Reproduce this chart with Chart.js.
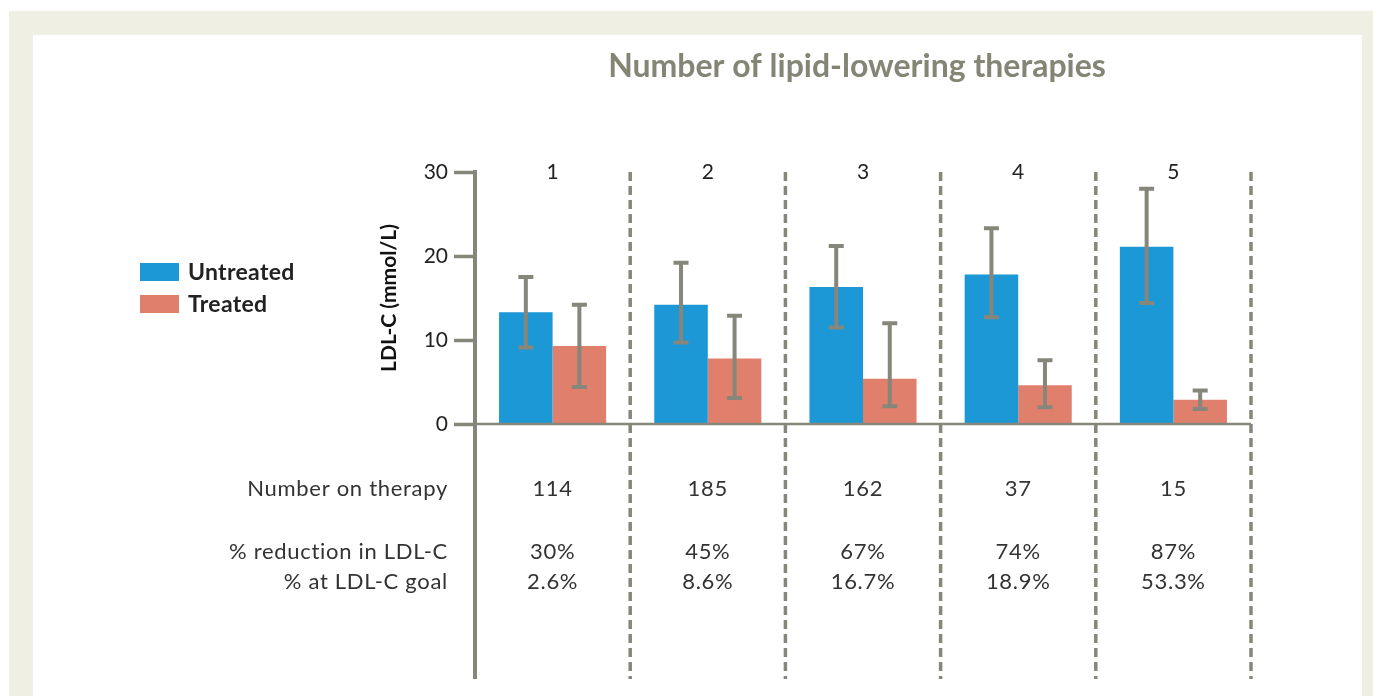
<!DOCTYPE html>
<html>
<head>
<meta charset="utf-8">
<script src="https://cdn.jsdelivr.net/npm/chart.js@4/dist/chart.umd.min.js"></script>
<style>
  body { margin: 0; background: #fff; }
  #wrap { width: 1373px; height: 696px; }
</style>
</head>
<body>
<div id="wrap"><canvas id="bar-chart" width="1373" height="696"></canvas></div>
<script>
// therapy counts on the x axis
const categories = ['1', '2', '3', '4', '5'];

// LDL-C means and error bar ends (mmol/L)
const untreated = [13.3, 14.2, 16.3, 17.8, 21.1];
const untreatedLow = [9.1, 9.7, 11.5, 12.7, 14.4];
const untreatedHigh = [17.5, 19.2, 21.2, 23.3, 28.0];
const treated = [9.3, 7.8, 5.4, 4.6, 2.9];
const treatedLow = [4.4, 3.1, 2.1, 2.0, 1.8];
const treatedHigh = [14.2, 12.9, 12.0, 7.6, 4.0];

// table under the chart
const numberOnTherapy = ['114', '185', '162', '37', '15'];
const reductionLDL = ['30%', '45%', '67%', '74%', '87%'];
const atGoal = ['2.6%', '8.6%', '16.7%', '18.9%', '53.3%'];

const yTicks = [0, 10, 20, 30];

const GREY = '#86867a';
const FONT = 'Lato, "Open Sans", sans-serif';

const errLow = [untreatedLow, treatedLow];
const errHigh = [untreatedHigh, treatedHigh];

const extras = {
    id: 'extras',
    beforeDraw(chart) {
        const ctx = chart.ctx;
        ctx.save();
        ctx.fillStyle = '#ffffff';
        ctx.fillRect(0, 0, chart.width, chart.height);
        ctx.fillStyle = '#eff0e3';
        ctx.fillRect(9, 11, chart.width - 9, chart.height - 11);
        ctx.fillStyle = '#ffffff';
        ctx.fillRect(33, 35, 1329, chart.height - 35);
        ctx.restore();
    },
    afterDatasetsDraw(chart) {
        const ctx = chart.ctx;
        const x = chart.scales.x;
        const y = chart.scales.y;
        const area = chart.chartArea;
        const bottomLine = 679;
        ctx.save();

        // dashed separators between groups
        ctx.strokeStyle = GREY;
        ctx.lineWidth = 3.5;
        ctx.setLineDash([9, 5]);
        for (let i = 0; i < categories.length; i++) {
            const sx = (x.getPixelForValue(i) + (i < categories.length - 1 ? x.getPixelForValue(i + 1) : 2 * x.getPixelForValue(i) - x.getPixelForValue(i - 1))) / 2;
            ctx.beginPath();
            ctx.moveTo(sx, area.top);
            ctx.lineTo(sx, bottomLine);
            ctx.stroke();
        }
        ctx.setLineDash([]);

        // baseline at 0
        ctx.lineWidth = 2.5;
        ctx.beginPath();
        ctx.moveTo(area.left, y.getPixelForValue(0));
        ctx.lineTo(area.right, y.getPixelForValue(0));
        ctx.stroke();

        // y axis continues down through the table
        ctx.lineWidth = 4;
        ctx.beginPath();
        ctx.moveTo(area.left, area.bottom);
        ctx.lineTo(area.left, bottomLine);
        ctx.stroke();

        // error bars
        ctx.lineWidth = 4;
        chart.data.datasets.forEach((ds, d) => {
            const meta = chart.getDatasetMeta(d);
            meta.data.forEach((bar, i) => {
                const top = y.getPixelForValue(errHigh[d][i]);
                const bot = y.getPixelForValue(errLow[d][i]);
                ctx.beginPath();
                ctx.moveTo(bar.x, top);
                ctx.lineTo(bar.x, bot);
                ctx.moveTo(bar.x - 7.5, top);
                ctx.lineTo(bar.x + 7.5, top);
                ctx.moveTo(bar.x - 7.5, bot);
                ctx.lineTo(bar.x + 7.5, bot);
                ctx.stroke();
            });
        });

        // title
        ctx.fillStyle = '#858576';
        ctx.font = 'bold 32px ' + FONT;
        ctx.textAlign = 'center';
        ctx.textBaseline = 'middle';
        ctx.fillText('Number of lipid-lowering therapies', 857, 67);

        // category labels at the top
        ctx.fillStyle = '#222';
        ctx.font = '21px ' + FONT;
        categories.forEach((c, i) => {
            ctx.fillText(c, x.getPixelForValue(i), y.getPixelForValue(30));
        });

        // legend
        ctx.textAlign = 'left';
        ctx.font = 'bold 23px ' + FONT;
        ctx.letterSpacing = '0.3px';
        chart.data.datasets.forEach((ds, d) => {
            const ly = 272 + d * 32;
            ctx.fillStyle = ds.backgroundColor;
            ctx.fillRect(140, ly - 9, 39, 18);
            ctx.fillStyle = '#222';
            ctx.fillText(ds.label, 188, ly + 1);
        });

        // table rows
        const rows = [
            ['Number on therapy', numberOnTherapy, 489],
            ['% reduction in LDL-C', reductionLDL, 552],
            ['% at LDL-C goal', atGoal, 582]
        ];
        ctx.font = '22px ' + FONT;
        ctx.letterSpacing = '0.7px';
        ctx.fillStyle = '#333';
        rows.forEach(r => {
            ctx.textAlign = 'right';
            ctx.fillText(r[0], 448, r[2]);
            ctx.textAlign = 'center';
            r[1].forEach((v, i) => ctx.fillText(v, x.getPixelForValue(i), r[2]));
        });
        ctx.restore();
    }
};

new Chart(document.getElementById('bar-chart'), {
    type: 'bar',
    data: {
        labels: categories,
        datasets: [{
            label: 'Untreated',
            data: untreated,
            backgroundColor: '#1d98d6'
        }, {
            label: 'Treated',
            data: treated,
            backgroundColor: '#e07f6b'
        }]
    },
    options: {
        responsive: false,
        animation: false,
        events: [],
        categoryPercentage: 0.69,
        barPercentage: 1.0,
        layout: { padding: { left: 373, top: 172, right: 122, bottom: 272 } },
        plugins: {
            legend: { display: false },
            tooltip: { enabled: false }
        },
        scales: {
            x: { display: false },
            y: {
                min: 0,
                max: 30,
                afterFit: s => { s.width = 475 - 373; },
                afterBuildTicks: s => { s.ticks = yTicks.map(v => ({ value: v })); },
                border: { display: true, color: GREY, width: 4 },
                grid: {
                    display: true,
                    drawOnChartArea: false,
                    drawTicks: true,
                    tickLength: 21,
                    tickWidth: 3.5,
                    tickColor: GREY
                },
                ticks: {
                    padding: 6,
                    color: '#222',
                    font: { family: FONT, size: 21 }
                },
                title: {
                    display: true,
                    text: 'LDL-C (mmol/L)',
                    color: '#111',
                    font: { family: FONT, size: 21, weight: 'bold' }
                }
            }
        }
    },
    plugins: [extras]
});
</script>
</body>
</html>
